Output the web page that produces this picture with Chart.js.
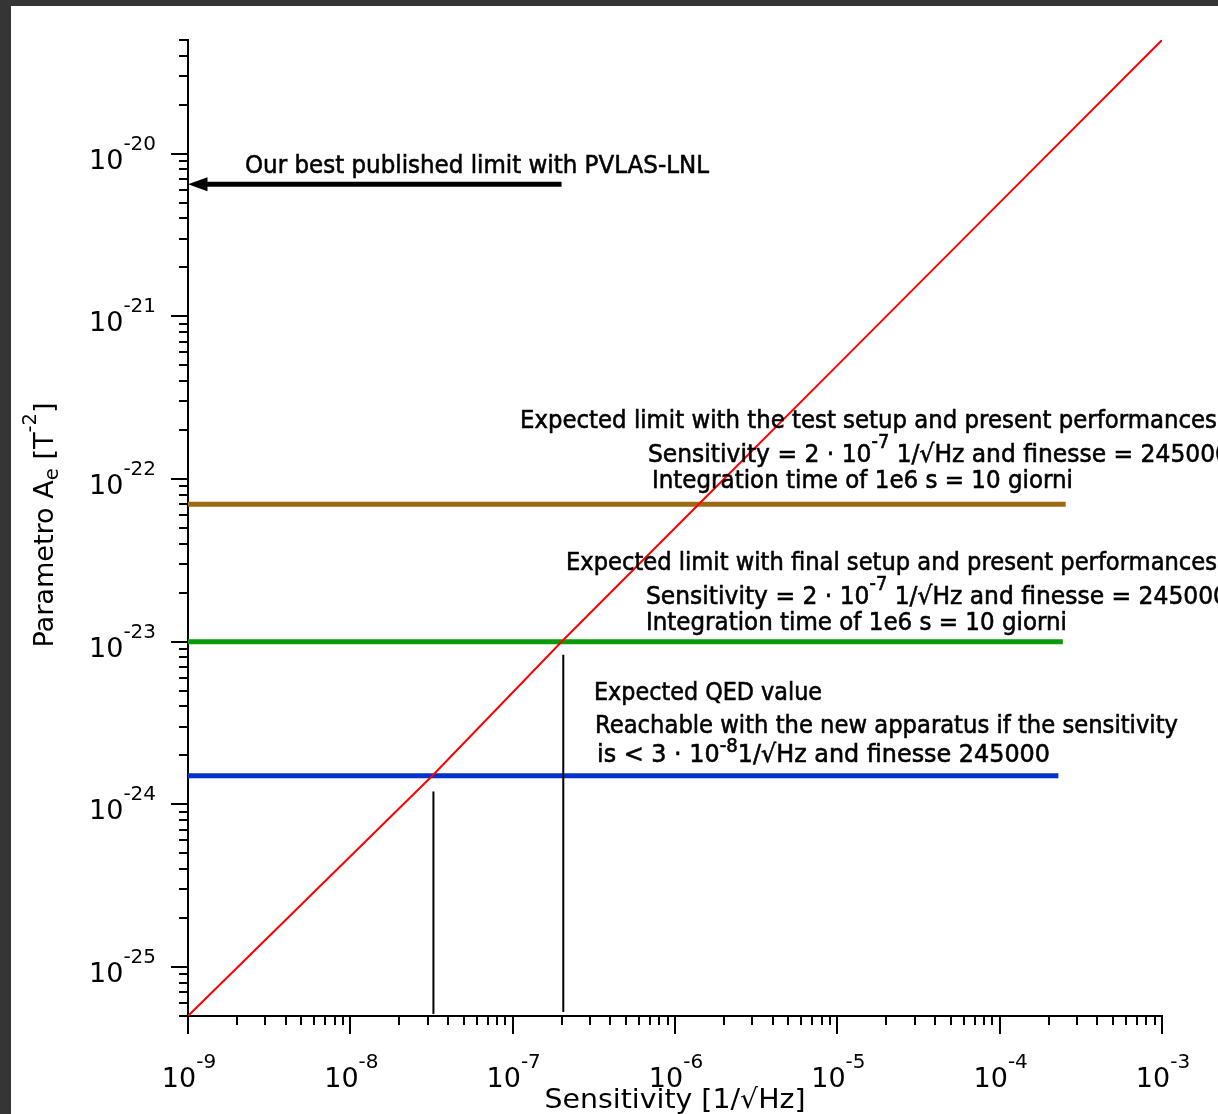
<!DOCTYPE html>
<html>
<head>
<meta charset="utf-8">
<script src="https://cdn.jsdelivr.net/npm/chart.js@4.4.0/dist/chart.umd.min.js"></script>
<style>
  html, body { margin: 0; padding: 0; background: #353535; width: 1218px; height: 1114px; overflow: hidden; }
  #frame { position: absolute; left: 11px; top: 6px; width: 1207px; height: 1108px; background: #fff; }
  canvas { display: block; }
</style>
</head>
<body>
<div id="frame"><canvas id="aeChart" width="1207" height="1108"></canvas></div>
<script>
// Axes: sensitivity [1/sqrt(Hz)] vs parameter A_e [T^-2]
const xRange = [1e-9, 1e-3];
const yRange = [5e-26, 5e-20];
const xDecades = [-9, -8, -7, -6, -5, -4, -3];
const yDecades = [-26, -25, -24, -23, -22, -21, -20];
const tickSteps = [1, 2, 3, 4, 5, 6, 7, 8, 9];

// red curve, points
const curveSens = [1e-9, 3.2e-8, 2e-7, 1.4e-6, 1e-5, 1e-4, 1e-3];
const curveAe = [5e-26, 1.5e-24, 1e-23, 7e-23, 5e-22, 5e-21, 5e-20];

// horizontal limits: test setup, final setup, QED
const limitValues = [7e-23, 1e-23, 1.5e-24];
const limitEnds = [2.55e-4, 2.45e-4, 2.3e-4];

// vertical markers under the crossings
const markerSens = [3.25e-8, 2.05e-7];
const markerTop = [1.2e-24, 8.3e-24];
const markerBottom = [5.15e-26, 5.3e-26];

// published limit arrow
const publishedLimit = 6.5e-21;
const arrowFrom = 2e-7;
const arrowBase = 1.3e-9;

// annotation texts (parts: [text, 'sup'|'sub'])
const noteLines = [
    [['Our best published limit with PVLAS-LNL']],
    [['Expected limit with the test setup and present performances']],
    [['Sensitivity = 2 \u00b7 10'], ['-7', 'sup'], [' 1/\u221aHz and finesse = 245000']],
    [['Integration time of 1e6 s = 10 giorni']],
    [['Expected limit with final setup and present performances']],
    [['Sensitivity = 2 \u00b7 10'], ['-7', 'sup'], [' 1/\u221aHz and finesse = 245000']],
    [['Integration time of 1e6 s = 10 giorni']],
    [['Expected QED value']],
    [['Reachable with the new apparatus if the sensitivity']],
    [['is < 3 \u00b7 10'], ['-8', 'sup'], ['1/\u221aHz and finesse 245000']]
];
const xTitle = [['Sensitivity [1/\u221aHz]']];
const yTitle = [['Parametro A'], ['e', 'sub'], [' [T'], ['-2', 'sup'], [']']];

// where each note goes: [left, baseline, width, superscript rise] in canvas px
const notePlace = [
    [234, 167, 464, 0.55],
    [509, 422, 697, 0.55],
    [637, 456, 582, 0.55],
    [641, 482, 421, 0.55],
    [555, 564, 651, 0.55],
    [635, 598, 582, 0.55],
    [635, 624, 421, 0.55],
    [583, 694, 228, 0.55],
    [584, 727, 583, 0.55],
    [586, 756, 453, 0.4]
];

const FAMILY = '"DejaVu Sans", "Liberation Sans", sans-serif';

function pts(xs, ys) {
    return xs.map((v, i) => ({ x: v, y: ys[i] }));
}

function lineSet(data, color, width) {
    return {
        data: data,
        showLine: true,
        borderColor: color,
        backgroundColor: color,
        borderWidth: width,
        borderCapStyle: 'butt',
        pointRadius: 0,
        fill: false
    };
}

function logTicks(exps, lo, hi) {
    const out = [];
    exps.forEach(e => tickSteps.forEach(m => {
        const v = m * Math.pow(10, e);
        if (v >= lo * 0.999 && v <= hi * 1.001) out.push({ value: v, major: m === 1 });
    }));
    return out;
}

// draws a run of text pieces with super/subscripts, optionally squeezed to a width
function drawParts(ctx, parts, x, y, o) {
    const fontOf = p => {
        const s = p[1] ? o.size * (o.small || 0.7) : o.size;
        return 'normal ' + s + 'px ' + FAMILY;
    };
    let natural = 0;
    parts.forEach(p => { ctx.font = fontOf(p); natural += ctx.measureText(p[0]).width; });
    const sx = o.width ? o.width / natural : 1;
    const total = natural * sx;
    let start = 0;
    if (o.align === 'center') start = -total / 2;
    if (o.align === 'right') start = -total;
    ctx.save();
    ctx.translate(x, y);
    if (o.rotate) ctx.rotate(o.rotate);
    ctx.translate(start, 0);
    ctx.scale(sx, 1);
    ctx.textAlign = 'left';
    ctx.textBaseline = 'alphabetic';
    ctx.fillStyle = '#000';
    ctx.strokeStyle = '#000';
    ctx.lineWidth = o.stroke || 0;
    let cx = 0;
    parts.forEach(p => {
        ctx.font = fontOf(p);
        let dy = 0;
        if (p[1] === 'sup') dy = -o.size * (o.rise || 0.5);
        if (p[1] === 'sub') dy = o.size * (o.drop || 0.22);
        ctx.fillText(p[0], cx, dy);
        if (o.stroke) ctx.strokeText(p[0], cx, dy);
        cx += ctx.measureText(p[0]).width;
    });
    ctx.restore();
}

const overlay = {
    id: 'overlay',
    afterDraw(chart) {
        const { ctx, chartArea, scales: { x, y } } = chart;
        ctx.save();
        ctx.strokeStyle = '#000';
        ctx.lineWidth = 2;
        ctx.beginPath();
        x.ticks.forEach(t => {
            const px = Math.round(x.getPixelForValue(t.value));
            ctx.moveTo(px, chartArea.bottom);
            ctx.lineTo(px, chartArea.bottom + (t.major ? 18 : 9));
        });
        y.ticks.forEach(t => {
            const py = Math.round(y.getPixelForValue(t.value));
            ctx.moveTo(chartArea.left, py);
            ctx.lineTo(chartArea.left - (t.major ? 17 : 9), py);
        });
        ctx.stroke();

        // tick labels 10^n
        x.ticks.filter(t => t.major).forEach(t => {
            const e = Math.round(Math.log10(t.value));
            drawParts(ctx, [['10'], [String(e), 'sup']], x.getPixelForValue(t.value) + 1, chartArea.bottom + 71,
                { size: 27, small: 0.74, rise: 0.7, align: 'center' });
        });
        y.ticks.filter(t => t.major).forEach(t => {
            const e = Math.round(Math.log10(t.value));
            drawParts(ctx, [['10'], [String(e), 'sup']], chartArea.left - 32, y.getPixelForValue(t.value) + 15,
                { size: 27, small: 0.74, rise: 0.7, align: 'right' });
        });

        // axis titles
        drawParts(ctx, xTitle, 664, 1102, { size: 27, align: 'center', width: 261 });
        drawParts(ctx, yTitle, 42, 519, { size: 27, small: 0.72, rise: 0.62, drop: 0.2, align: 'center', width: 245, rotate: -Math.PI / 2 });

        // notes
        noteLines.forEach((parts, i) => {
            const p = notePlace[i];
            drawParts(ctx, parts, p[0], p[1], { size: 25, small: 0.76, rise: p[3], width: p[2], stroke: 0.6 });
        });

        // arrow head pointing at the axis
        const tipX = x.getPixelForValue(xRange[0]);
        const baseX = x.getPixelForValue(arrowBase);
        const ay = y.getPixelForValue(publishedLimit);
        ctx.fillStyle = '#000';
        ctx.beginPath();
        ctx.moveTo(tipX, ay);
        ctx.lineTo(baseX + 1, ay - 7);
        ctx.lineTo(baseX + 1, ay + 7);
        ctx.closePath();
        ctx.fill();
        ctx.restore();
    }
};

const datasets = [
    lineSet(pts(curveSens, curveAe), '#ff0000', 2),
    lineSet(pts([markerSens[0], markerSens[0]], [markerBottom[0], markerTop[0]]), '#000', 2),
    lineSet(pts([markerSens[1], markerSens[1]], [markerBottom[1], markerTop[1]]), '#000', 2),
    lineSet(pts([arrowFrom, arrowBase], [publishedLimit, publishedLimit]), '#000', 5),
    lineSet(pts([xRange[0], limitEnds[0]], [limitValues[0], limitValues[0]]), '#9c6a12', 5),
    lineSet(pts([xRange[0], limitEnds[1]], [limitValues[1], limitValues[1]]), '#0a9a0a', 5),
    lineSet(pts([xRange[0], limitEnds[2]], [limitValues[2], limitValues[2]]), '#0033cc', 5)
];

function axisOpts(range, decades) {
    return {
        type: 'logarithmic',
        min: range[0],
        max: range[1],
        grid: { display: false, drawTicks: false },
        border: { display: true, color: '#000', width: 2 },
        ticks: { display: false, autoSkip: false },
        afterBuildTicks: axis => { axis.ticks = logTicks(decades, range[0], range[1]); }
    };
}

new Chart(document.getElementById('aeChart'), {
    type: 'scatter',
    data: { datasets: datasets },
    options: {
        responsive: false,
        animation: false,
        layout: { padding: { left: 177, right: 56, top: 34, bottom: 98 } },
        plugins: { legend: { display: false }, tooltip: { enabled: false } },
        scales: {
            x: axisOpts(xRange, xDecades),
            y: axisOpts(yRange, yDecades)
        }
    },
    plugins: [overlay]
});
</script>
</body>
</html>
